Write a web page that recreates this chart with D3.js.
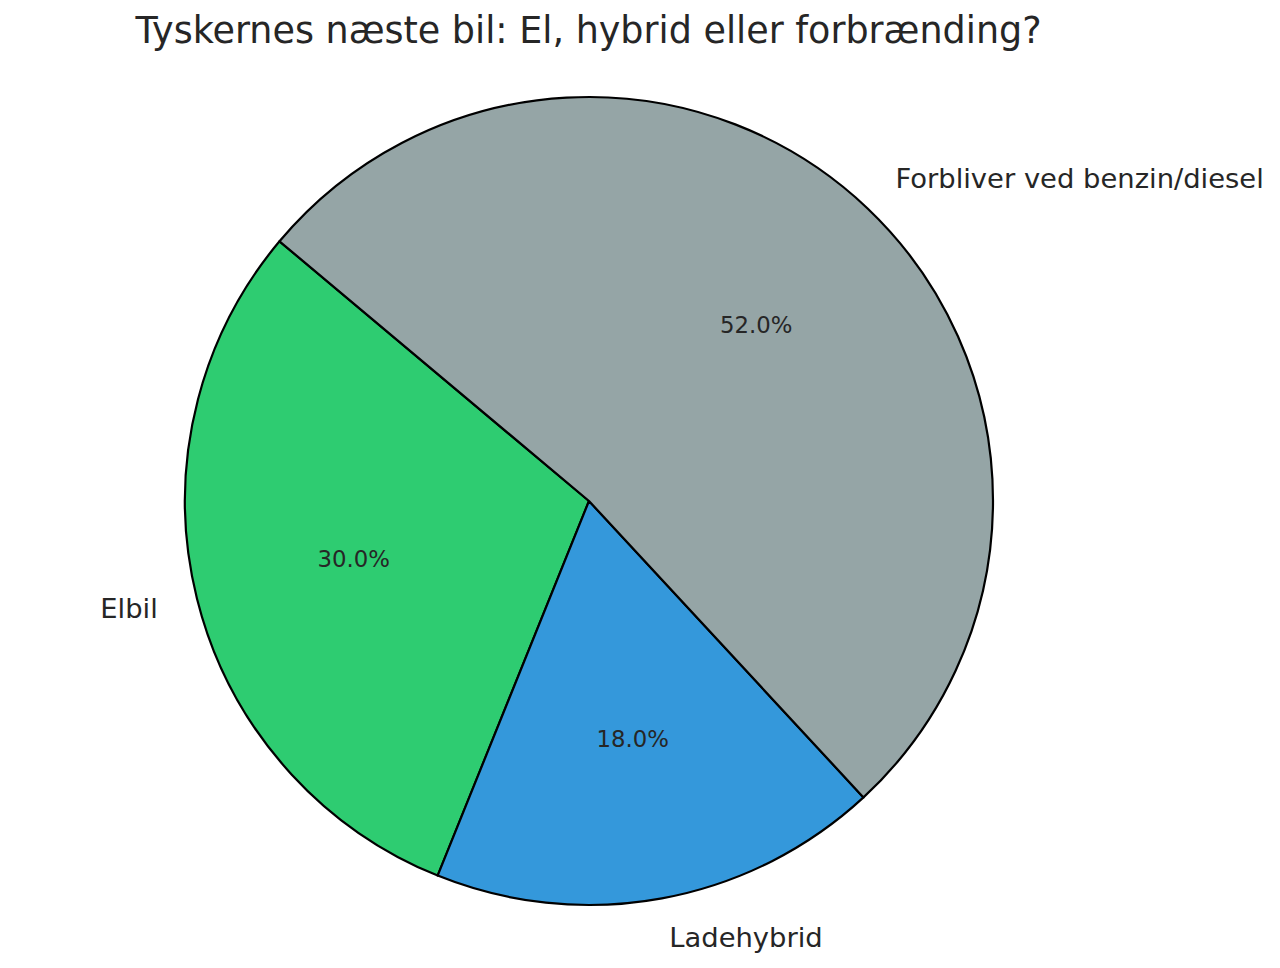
<!DOCTYPE html>
<html>
<head>
<meta charset="utf-8">
<script src="https://cdn.jsdelivr.net/npm/d3@7"></script>
<style>
  html, body { margin: 0; padding: 0; background: #fff; }
  svg text { font-family: "DejaVu Sans", sans-serif; fill: #262626; }
</style>
</head>
<body>
<svg id="chart" width="1280" height="968"></svg>
<script>
const title = "Tyskernes næste bil: El, hybrid eller forbrænding?";
const categories = ["Elbil", "Ladehybrid", "Forbliver ved benzin/diesel"];
const values = [30, 18, 52];
const colors = ["#2ecc71", "#3498db", "#95a5a6"];

const W = 1280, H = 968;
const cx = 589, cy = 501, R = 404;
const svg = d3.select("#chart");

svg.append("text")
  .attr("x", 588.5).attr("y", 43)
  .attr("text-anchor", "middle")
  .style("font-size", "36.5px")
  .text(title);

const deg = Math.PI / 180;
// matplotlib startangle=140 counterclockwise -> d3 angle = 90 - theta
const pie = d3.pie().sort(null).value(d => d)
  .startAngle((90 - 140) * deg)
  .endAngle((90 - 140 - 360) * deg);
const arcs = pie(values);
const arc = d3.arc().innerRadius(0).outerRadius(R);

const g = svg.append("g").attr("transform", `translate(${cx},${cy})`);
g.selectAll("path").data(arcs).enter().append("path")
  .attr("d", arc)
  .attr("fill", (d, i) => colors[i])
  .attr("stroke", "#000")
  .attr("stroke-width", 2.2)
  .attr("stroke-linejoin", "round");

function pos(d, f) {
  const m = (d.startAngle + d.endAngle) / 2;
  return [f * R * Math.sin(m), -f * R * Math.cos(m)];
}

g.selectAll("text.lbl").data(arcs).enter().append("text")
  .attr("class", "lbl")
  .attr("x", d => pos(d, 1.1)[0])
  .attr("y", d => pos(d, 1.1)[1])
  .attr("dy", "0.33em")
  .attr("text-anchor", d => pos(d, 1.1)[0] < 0 ? "end" : "start")
  .style("font-size", "27.4px")
  .text((d, i) => categories[i]);

const total = d3.sum(values);
g.selectAll("text.pct").data(arcs).enter().append("text")
  .attr("class", "pct")
  .attr("x", d => pos(d, 0.6)[0])
  .attr("y", d => pos(d, 0.6)[1])
  .attr("dy", "0.33em")
  .attr("text-anchor", "middle")
  .style("font-size", "22.8px")
  .text(d => (d.value / total * 100).toFixed(1) + "%");
</script>
</body>
</html>
